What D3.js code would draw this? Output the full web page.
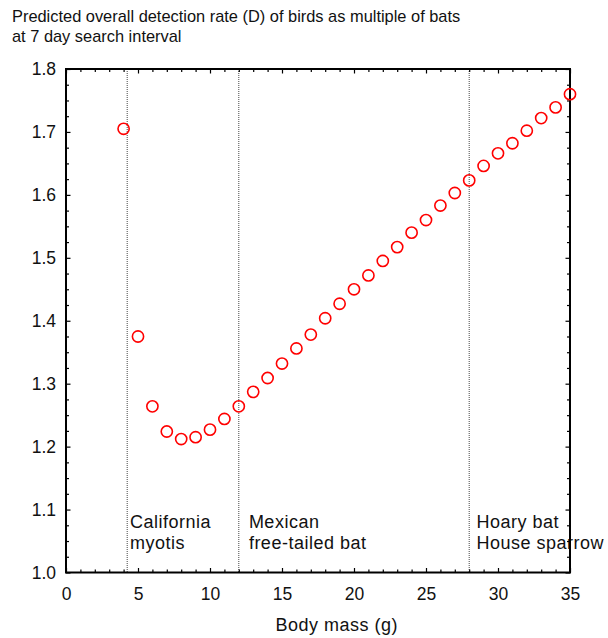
<!DOCTYPE html>
<html>
<head>
<meta charset="utf-8">
<script src="https://cdn.jsdelivr.net/npm/d3@7/dist/d3.min.js"></script>
<style>
  html, body { margin: 0; padding: 0; background: #fff; }
  svg { display: block; font-family: "Liberation Sans", Arial, sans-serif; }
</style>
</head>
<body>
<svg id="chart" width="608" height="638"></svg>
<script>
// Body mass (g) and predicted detection-rate ratio (birds / bats)
const bodyMass = [4, 5, 6, 7, 8, 9, 10, 11, 12, 13, 14, 15, 16, 17, 18, 19, 20,
  21, 22, 23, 24, 25, 26, 27, 28, 29, 30, 31, 32, 33, 34, 35];
const detectionRatio = [1.705, 1.375, 1.264, 1.224, 1.212, 1.215, 1.227, 1.244,
  1.264, 1.287, 1.309, 1.332, 1.356, 1.378, 1.404, 1.427, 1.450, 1.472, 1.495,
  1.517, 1.540, 1.560, 1.583, 1.603, 1.623, 1.646, 1.666, 1.682, 1.702, 1.722,
  1.739, 1.760];

// Reference species body masses and their labels
const speciesMass = [4.25, 12, 28];
const speciesLabels = [["California", "myotis"], ["Mexican", "free-tailed bat"], ["Hoary bat", "House sparrow"]];
const labelMass = [4.45, 12.7, 28.5];

const xTicks = [0, 5, 10, 15, 20, 25, 30, 35];
const yTicks = [1.0, 1.1, 1.2, 1.3, 1.4, 1.5, 1.6, 1.7, 1.8];

const titleLines = ["Predicted overall detection rate (D) of birds as multiple of bats",
  "at 7 day search interval"];
const xTitle = "Body mass (g)";

const svg = d3.select("#chart");
const plotLeft = 66, plotRight = 570, plotTop = 69, plotBottom = 572.5;

const x = d3.scaleLinear().domain([0, 35]).range([plotLeft, plotRight]);
const y = d3.scaleLinear().domain([1.0, 1.8]).range([plotBottom, plotTop]);

// Title
svg.append("g").selectAll("text").data(titleLines).join("text")
  .attr("x", 12).attr("y", (d, i) => 22 + i * 20)
  .attr("font-size", 16.4).attr("fill", "#111").text(d => d);

// Reference lines (dotted)
svg.append("g").selectAll("line").data(speciesMass).join("line")
  .attr("x1", d => x(d)).attr("x2", d => x(d))
  .attr("y1", plotTop).attr("y2", plotBottom)
  .attr("stroke", "#444").attr("stroke-width", 1)
  .attr("stroke-dasharray", "1,1");

// Species labels
const lab = svg.append("g");
speciesLabels.forEach((lines, i) => {
  lab.append("text")
    .attr("x", x(labelMass[i])).attr("y", 527.5)
    .attr("font-size", 18).attr("letter-spacing", 0.5).attr("fill", "#111")
    .selectAll("tspan").data(lines).join("tspan")
    .attr("x", x(labelMass[i])).attr("dy", (d, j) => j === 0 ? 0 : 21.5)
    .text(d => d);
});

// Minor ticks (inward)
const minorX = d3.range(0, 36, 1).filter(v => v % 5 !== 0);
const minorY = d3.range(0, 33).map(i => 1 + i * 0.025).filter((v, i) => i % 4 !== 0);

function styleAxis(g) {
  g.select(".domain").remove();
  g.selectAll(".tick line").attr("stroke", "#000").attr("stroke-width", 1.2);
  g.selectAll(".tick text").attr("font-size", 17.5).attr("fill", "#111")
    .attr("font-family", "Liberation Sans, Arial, sans-serif");
}

// Bottom axis
svg.append("g").attr("transform", `translate(0,${plotBottom})`)
  .call(d3.axisBottom(x).tickValues(xTicks).tickSize(-4.5).tickPadding(15).tickFormat(d3.format("d")))
  .call(styleAxis);
svg.append("g").attr("transform", `translate(0,${plotBottom})`)
  .call(d3.axisBottom(x).tickValues(minorX).tickSize(-3).tickFormat(""))
  .call(styleAxis);
// Top axis
svg.append("g").attr("transform", `translate(0,${plotTop})`)
  .call(d3.axisTop(x).tickValues(xTicks).tickSize(-4.5).tickFormat(""))
  .call(styleAxis);
svg.append("g").attr("transform", `translate(0,${plotTop})`)
  .call(d3.axisTop(x).tickValues(minorX).tickSize(-3).tickFormat(""))
  .call(styleAxis);
// Left axis
svg.append("g").attr("transform", `translate(${plotLeft},0)`)
  .call(d3.axisLeft(y).tickValues(yTicks).tickSize(-4.5).tickPadding(10).tickFormat(d3.format(".1f")))
  .call(styleAxis);
svg.append("g").attr("transform", `translate(${plotLeft},0)`)
  .call(d3.axisLeft(y).tickValues(minorY).tickSize(-3).tickFormat(""))
  .call(styleAxis);
// Right axis
svg.append("g").attr("transform", `translate(${plotRight},0)`)
  .call(d3.axisRight(y).tickValues(yTicks).tickSize(-4.5).tickFormat(""))
  .call(styleAxis);
svg.append("g").attr("transform", `translate(${plotRight},0)`)
  .call(d3.axisRight(y).tickValues(minorY).tickSize(-3).tickFormat(""))
  .call(styleAxis);

// Frame
svg.append("rect")
  .attr("x", plotLeft).attr("y", plotTop)
  .attr("width", plotRight - plotLeft).attr("height", plotBottom - plotTop)
  .attr("fill", "none").attr("stroke", "#000").attr("stroke-width", 2);

// Points
svg.append("g").selectAll("circle").data(bodyMass).join("circle")
  .attr("cx", d => x(d)).attr("cy", (d, i) => y(detectionRatio[i]))
  .attr("r", 5.6)
  .attr("fill", "none").attr("stroke", "#ff0000").attr("stroke-width", 1.6);

// X-axis title
svg.append("text")
  .attr("x", 336.7).attr("y", 631)
  .attr("text-anchor", "middle")
  .attr("font-size", 18).attr("letter-spacing", 0.5).attr("fill", "#111")
  .text(xTitle);
</script>
</body>
</html>
